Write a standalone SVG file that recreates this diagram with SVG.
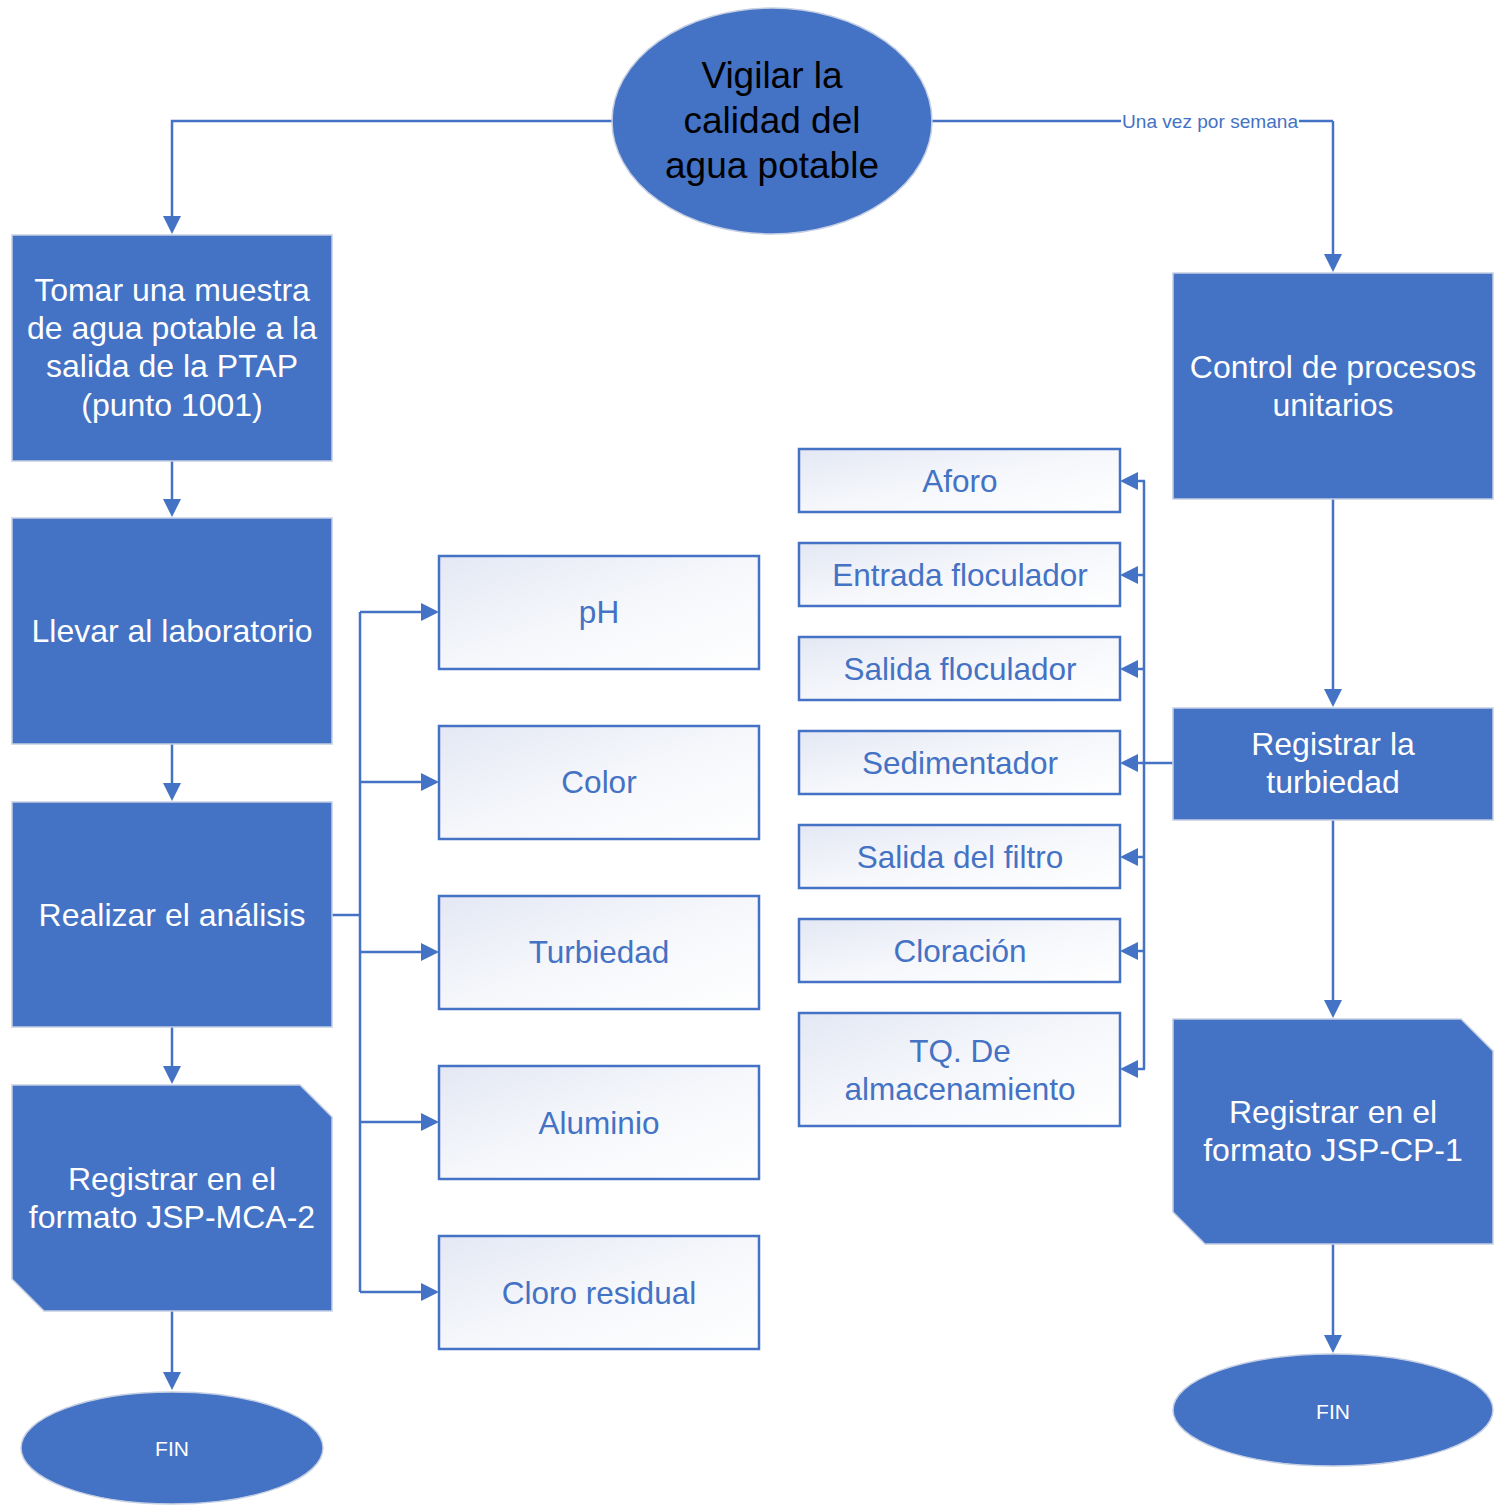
<svg xmlns="http://www.w3.org/2000/svg" width="1503" height="1505" viewBox="0 0 1503 1505">
<defs>
<linearGradient id="lg" x1="0" y1="0" x2="1" y2="1">
<stop offset="0" stop-color="#e4e8f4"/>
<stop offset="0.5" stop-color="#f5f7fb"/>
<stop offset="1" stop-color="#ffffff"/>
</linearGradient>
<marker id="ar" viewBox="0 0 18 18" refX="0" refY="9" markerWidth="18" markerHeight="18" markerUnits="userSpaceOnUse" orient="auto">
<path d="M0,0 L18,9 L0,18 z" fill="#4472C4"/>
</marker>
</defs>
<style>
.blue{fill:#4472C4;stroke:#c5cfe3;stroke-width:1.5}
.light{fill:url(#lg);stroke:#4472C4;stroke-width:2.5}
.wt{fill:#ffffff;font-family:"Liberation Sans",Arial,sans-serif;font-size:32px;text-anchor:middle}
.bt{fill:#4472C4;font-family:"Liberation Sans",Arial,sans-serif;font-size:31.5px;text-anchor:middle}
.kt{fill:#000000;font-family:"Liberation Sans",Arial,sans-serif;font-size:37px;text-anchor:middle}
.ft{fill:#ffffff;font-family:"Liberation Sans",Arial,sans-serif;font-size:21px;text-anchor:middle}
.con{fill:none;stroke:#4472C4;stroke-width:2.5}
.arr{marker-end:url(#ar)}
</style>
<rect width="1503" height="1505" fill="#ffffff"/>
<g id="connectors">
<path class="con arr" d="M612,121 H172 V216"/>
<path class="con" d="M932,121 H1333"/>
<path class="con arr" d="M1333,121 V254"/>
<rect x="1121" y="110" width="178" height="22" fill="#ffffff"/>
<text x="1210" y="128" fill="#4472C4" font-family="Liberation Sans, Arial, sans-serif" font-size="19" text-anchor="middle" textLength="176" lengthAdjust="spacingAndGlyphs">Una vez por semana</text>
<path class="con arr" d="M172,461 V499"/>
<path class="con arr" d="M172,744 V783"/>
<path class="con arr" d="M172,1027 V1066"/>
<path class="con arr" d="M172,1311 V1372"/>
<path class="con arr" d="M1333,499 V689"/>
<path class="con arr" d="M1333,820 V1000"/>
<path class="con arr" d="M1333,1244 V1335"/>
<path class="con" d="M332,915 H360"/>
<path class="con" d="M360,612 V1292"/>
<path class="con arr" d="M360,612 H421"/>
<path class="con arr" d="M360,782 H421"/>
<path class="con arr" d="M360,952 H421"/>
<path class="con arr" d="M360,1122 H421"/>
<path class="con arr" d="M360,1292 H421"/>
<path class="con" d="M1173,763 H1144"/>
<path class="con" d="M1144,481 V1069"/>
<path class="con arr" d="M1145,481 H1138"/>
<path class="con arr" d="M1145,575 H1138"/>
<path class="con arr" d="M1145,669 H1138"/>
<path class="con arr" d="M1145,763 H1138"/>
<path class="con arr" d="M1145,857 H1138"/>
<path class="con arr" d="M1145,951 H1138"/>
<path class="con arr" d="M1145,1069 H1138"/>
</g>
<g id="start">
<ellipse class="blue" cx="772" cy="121" rx="160" ry="113"/>
<text class="kt" x="772" y="88">Vigilar la</text>
<text class="kt" x="772" y="133">calidad del</text>
<text class="kt" x="772" y="178">agua potable</text>
</g>
<g id="tomar">
<rect class="blue" x="12" y="235" width="320" height="226"/>
<text class="wt" x="172" y="301">Tomar una muestra</text>
<text class="wt" x="172" y="339">de agua potable a la</text>
<text class="wt" x="172" y="377">salida de la PTAP</text>
<text class="wt" x="172" y="416">(punto 1001)</text>
</g>
<g id="llevar">
<rect class="blue" x="12" y="518" width="320" height="226"/>
<text class="wt" x="172" y="642">Llevar al laboratorio</text>
</g>
<g id="realizar">
<rect class="blue" x="12" y="802" width="320" height="225"/>
<text class="wt" x="172" y="926">Realizar el análisis</text>
</g>
<g id="registrar-mca">
<path class="blue" d="M12,1085 H300 L332,1117 V1311 H44 L12,1279 Z"/>
<text class="wt" x="172" y="1190">Registrar en el</text>
<text class="wt" x="172" y="1228">formato JSP-MCA-2</text>
</g>
<g id="fin-left">
<ellipse class="blue" cx="172" cy="1448" rx="151" ry="56"/>
<text class="ft" x="172" y="1456">FIN</text>
</g>
<g id="ph">
<rect class="light" x="439" y="556" width="320" height="113"/>
<text class="bt" x="599" y="623">pH</text>
</g>
<g id="color">
<rect class="light" x="439" y="726" width="320" height="113"/>
<text class="bt" x="599" y="793">Color</text>
</g>
<g id="turbiedad">
<rect class="light" x="439" y="896" width="320" height="113"/>
<text class="bt" x="599" y="963">Turbiedad</text>
</g>
<g id="aluminio">
<rect class="light" x="439" y="1066" width="320" height="113"/>
<text class="bt" x="599" y="1134">Aluminio</text>
</g>
<g id="cloro">
<rect class="light" x="439" y="1236" width="320" height="113"/>
<text class="bt" x="599" y="1304">Cloro residual</text>
</g>
<g id="aforo">
<rect class="light" x="799" y="449" width="321" height="63"/>
<text class="bt" x="960" y="492">Aforo</text>
</g>
<g id="entrada">
<rect class="light" x="799" y="543" width="321" height="63"/>
<text class="bt" x="960" y="586">Entrada floculador</text>
</g>
<g id="salida-floc">
<rect class="light" x="799" y="637" width="321" height="63"/>
<text class="bt" x="960" y="680">Salida floculador</text>
</g>
<g id="sedimentador">
<rect class="light" x="799" y="731" width="321" height="63"/>
<text class="bt" x="960" y="774">Sedimentador</text>
</g>
<g id="filtro">
<rect class="light" x="799" y="825" width="321" height="63"/>
<text class="bt" x="960" y="868">Salida del filtro</text>
</g>
<g id="cloracion">
<rect class="light" x="799" y="919" width="321" height="63"/>
<text class="bt" x="960" y="962">Cloración</text>
</g>
<g id="tq">
<rect class="light" x="799" y="1013" width="321" height="113"/>
<text class="bt" x="960" y="1062">TQ. De</text>
<text class="bt" x="960" y="1100">almacenamiento</text>
</g>
<g id="control">
<rect class="blue" x="1173" y="273" width="320" height="226"/>
<text class="wt" x="1333" y="378">Control de procesos</text>
<text class="wt" x="1333" y="416">unitarios</text>
</g>
<g id="registrar-turb">
<rect class="blue" x="1173" y="708" width="320" height="112"/>
<text class="wt" x="1333" y="755">Registrar la</text>
<text class="wt" x="1333" y="793">turbiedad</text>
</g>
<g id="registrar-cp">
<path class="blue" d="M1173,1019 H1461 L1493,1051 V1244 H1205 L1173,1212 Z"/>
<text class="wt" x="1333" y="1123">Registrar en el</text>
<text class="wt" x="1333" y="1161">formato JSP-CP-1</text>
</g>
<g id="fin-right">
<ellipse class="blue" cx="1333" cy="1410" rx="160" ry="56"/>
<text class="ft" x="1333" y="1419">FIN</text>
</g>
</svg>
